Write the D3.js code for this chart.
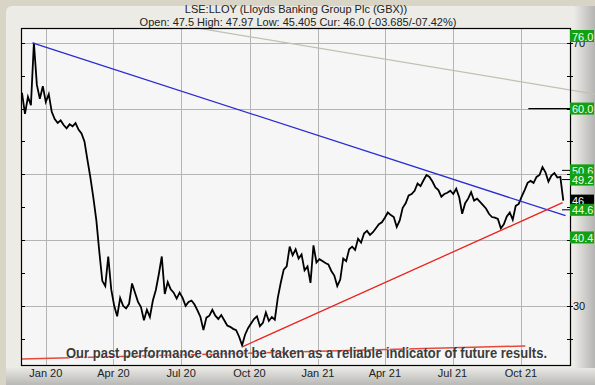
<!DOCTYPE html>
<html>
<head>
<meta charset="utf-8">
<script src="https://cdn.jsdelivr.net/npm/d3@7"></script>
<style>
  body { margin: 0; padding: 0; background: #e9e7e1; }
  svg { display: block; font-family: Arial, "Liberation Sans", sans-serif; }
</style>
</head>
<body>
<svg id="chart" width="595" height="385"></svg>
<script>
// price series, one reading every 4 days from 30 Nov 2019
var startDate = new Date(2019, 10, 30);
var stepDays = 4;
var prices = [
  62.4, 59.2, 61.8, 60.5, 70.0, 63.6, 61.5, 63.4, 61.0, 62.2,
  59.5, 58.4, 57.8, 58.2, 57.5, 57.0, 57.6, 57.3, 57.8, 56.8,
  56.2, 55.0, 52.2, 49.5, 46.4, 43.0, 38.2, 33.8, 33.0, 37.5,
  32.5, 30.0, 28.4, 31.2, 30.0, 29.6, 30.3, 33.4, 32.0, 30.6,
  29.8, 27.8, 29.4, 28.3, 30.8, 32.4, 34.8, 37.5, 31.8, 33.6,
  32.5, 32.0, 31.1, 32.0, 31.2, 30.0, 30.6, 30.8, 30.2, 29.3,
  28.3, 26.3, 28.2, 28.5, 29.4, 28.5, 28.0, 28.6, 27.8, 27.0,
  26.8, 26.5, 26.3, 25.3, 24.0, 25.6, 26.6, 27.3, 28.0, 28.4,
  26.9, 27.4, 29.0, 27.7, 28.3, 27.9, 31.2, 33.5, 35.5, 36.0,
  39.0, 37.7, 38.6, 37.2, 37.8, 35.4, 36.0, 33.5, 39.2, 36.6,
  37.1, 36.8, 36.5, 36.3, 35.3, 34.6, 33.0, 34.0, 37.2, 36.8,
  38.6, 39.0, 38.5, 40.2, 39.6, 41.0, 41.4, 40.8, 41.2, 41.8,
  42.4, 42.7, 43.4, 44.2, 43.8, 43.5, 42.0, 43.0, 44.9, 45.6,
  46.8, 47.0, 47.5, 48.6, 48.2, 49.1, 49.9, 49.6, 48.9, 48.0,
  47.6, 46.6, 47.0, 47.2, 47.5, 47.0, 47.8, 46.5, 44.0, 45.6,
  46.3, 47.3, 46.0, 46.3, 45.8, 45.3, 44.8, 44.0, 43.5, 43.4,
  43.2, 41.8, 42.4, 43.6, 44.2, 43.1, 45.2, 45.5, 46.6, 47.6,
  48.7, 49.0, 48.7, 49.6, 49.9, 51.1, 50.3, 48.9, 49.8, 50.2,
  49.5, 49.6, 46.0
];

// trend lines: [startDate, startValue, endDate, endValue]
var blueLine = [new Date(2019, 11, 14), 70.0, new Date(2021, 10, 30), 43.7];
var redLine = [new Date(2020, 8, 22), 23.8, new Date(2021, 10, 26), 45.7];
var redLongLine = [new Date(2019, 10, 30), 21.9, new Date(2021, 9, 7), 23.9];
var grayLine = [new Date(2020, 6, 20), 72.3, new Date(2022, 0, 9), 62.2];

// level markers on the right
var levels = [76.0, 60.0, 50.6, 49.2, 44.6, 40.4];
var levelsDrawnAfterCur = [44.6, 40.4];
var curValue = 46;
var level60Start = new Date(2021, 9, 11);
var shortDashes = [50.6, 49.2, 44.6];

var yTicksMajor = [70, 60, 50, 40, 30];
var yTicksMinor = [65, 55, 45, 35, 25];
var yTickLabels = [70, 30];

var titleLine1 = "LSE:LLOY (Lloyds Banking Group Plc (GBX))";
var titleLine2 = "Open: 47.5 High: 47.97 Low: 45.405 Cur: 46.0 (-03.685/-07.42%)";
var disclaimer = "Our past performance cannot be taken as a reliable indicator of future results.";

var W = 595, H = 385;
var pL = 22, pR = 570, pT = 29, pB = 365;

var svg = d3.select("#chart");
var defs = svg.append("defs");

var gR = defs.append("linearGradient").attr("id", "gR").attr("x1", 0).attr("x2", 1).attr("y1", 0).attr("y2", 0);
gR.append("stop").attr("offset", "0%").attr("stop-color", "#ebeae6");
gR.append("stop").attr("offset", "100%").attr("stop-color", "#b4b4b2");
var gB = defs.append("linearGradient").attr("id", "gB").attr("x1", 0).attr("x2", 0).attr("y1", 0).attr("y2", 1);
gB.append("stop").attr("offset", "0%").attr("stop-color", "#e8e7e3");
gB.append("stop").attr("offset", "100%").attr("stop-color", "#b8b8b6");

// frame
svg.append("rect").attr("width", W).attr("height", H).attr("fill", "#d8d4c6");
svg.append("rect").attr("x", 6).attr("y", 6).attr("width", W - 6).attr("height", H - 6)
  .attr("rx", 6).attr("fill", "#ecebe6");
svg.append("rect").attr("x", 574).attr("y", 6).attr("width", 21).attr("height", H - 6).attr("fill", "url(#gR)");
svg.append("rect").attr("x", 6).attr("y", 368).attr("width", 589).attr("height", 17).attr("fill", "url(#gB)");

var x = d3.scaleTime()
  .domain([new Date(2019, 10, 30), new Date(2021, 11, 6)])
  .range([pL, pR]);
var y = d3.scaleLinear().domain([21, 72.1]).range([pB, pT]);

var data = prices.map(function(v, i) {
  return { date: d3.timeDay.offset(startDate, i * stepDays), value: v };
});

// plot background
svg.append("rect").attr("x", pL).attr("y", pT).attr("width", pR - pL).attr("height", pB - pT)
  .attr("fill", "#f6f6f6");

var plot = svg.append("g");
var clip = defs.append("clipPath").attr("id", "plotClip");
clip.append("rect").attr("x", pL).attr("y", pT).attr("width", pR - pL).attr("height", pB - pT);

// grid
var quarters = x.ticks(d3.timeMonth.every(3));
plot.selectAll(".vg").data(quarters).enter().append("line")
  .attr("x1", function(d) { return Math.round(x(d)) + 0.5; })
  .attr("x2", function(d) { return Math.round(x(d)) + 0.5; })
  .attr("y1", pT).attr("y2", pB)
  .attr("stroke", "#b4b4b4").attr("stroke-width", 1);
plot.selectAll(".hg").data(yTicksMajor).enter().append("line")
  .attr("x1", pL).attr("x2", pR)
  .attr("y1", function(d) { return Math.round(y(d)) + 0.5; })
  .attr("y2", function(d) { return Math.round(y(d)) + 0.5; })
  .attr("stroke", "#b4b4b4").attr("stroke-width", 1);

// gray resistance line (runs out over the frame)
svg.append("line")
  .attr("x1", x(grayLine[0])).attr("y1", y(grayLine[1]))
  .attr("x2", x(grayLine[2])).attr("y2", y(grayLine[3]))
  .attr("stroke", "#c2bfb2").attr("stroke-width", 1.2);

var inner = svg.append("g").attr("clip-path", "url(#plotClip)");

function drawTrend(t, color, width) {
  inner.append("line")
    .attr("x1", x(t[0])).attr("y1", y(t[1]))
    .attr("x2", x(t[2])).attr("y2", y(t[3]))
    .attr("stroke", color).attr("stroke-width", width);
}

// price
var line = d3.line().x(function(d) { return x(d.date); }).y(function(d) { return y(d.value); });
inner.append("path").datum(data)
  .attr("d", line)
  .attr("fill", "none").attr("stroke", "#000").attr("stroke-width", 1.8)
  .attr("stroke-linejoin", "miter");

drawTrend(blueLine, "#2a2ad0", 1.3);
drawTrend(redLine, "#e8241c", 1.3);
drawTrend(redLongLine, "#e44a3a", 1.5);

// 60 level line and short dashes
inner.append("line")
  .attr("x1", x(level60Start)).attr("x2", pR)
  .attr("y1", y(60)).attr("y2", y(60))
  .attr("stroke", "#000").attr("stroke-width", 1.3);
svg.selectAll(".dash").data(shortDashes).enter().append("line")
  .attr("x1", pR - 8).attr("x2", pR)
  .attr("y1", function(d) { return y(d); }).attr("y2", function(d) { return y(d); })
  .attr("stroke", "#000").attr("stroke-width", 1);

// frame border
svg.append("rect").attr("x", pL - 0.5).attr("y", pT - 0.5)
  .attr("width", pR - pL + 1).attr("height", pB - pT + 1)
  .attr("fill", "none").attr("stroke", "#000").attr("stroke-width", 1.2);

// y ticks
var allTicks = yTicksMajor.concat(yTicksMinor);
svg.selectAll(".lt").data(allTicks).enter().append("line")
  .attr("x1", pL).attr("x2", pL + 3)
  .attr("y1", function(d) { return Math.round(y(d)) + 0.5; })
  .attr("y2", function(d) { return Math.round(y(d)) + 0.5; })
  .attr("stroke", "#000");
svg.selectAll(".rt").data(allTicks).enter().append("line")
  .attr("x1", pR - 3).attr("x2", pR + 3)
  .attr("y1", function(d) { return Math.round(y(d)) + 0.5; })
  .attr("y2", function(d) { return Math.round(y(d)) + 0.5; })
  .attr("stroke", "#000");
svg.selectAll(".ytl").data(yTickLabels).enter().append("text")
  .attr("x", pR + 3).attr("y", function(d) { return y(d) + 4; })
  .attr("font-size", 11).attr("fill", "#111")
  .text(function(d) { return d; });

// x labels
svg.selectAll(".xtl").data(quarters).enter().append("text")
  .attr("x", function(d) { return x(d); }).attr("y", 377)
  .attr("text-anchor", "middle").attr("font-size", 11).attr("fill", "#222")
  .text(function(d) { return d3.timeFormat("%b %y")(d); });

// level boxes
function levelBox(v, fill, txt) {
  var cy = Math.max(y(v), pT + 7);
  svg.append("rect").attr("x", 570).attr("y", cy - 6).attr("width", 24).attr("height", 12).attr("fill", fill);
  svg.append("text").attr("x", 572).attr("y", cy + 4.5)
    .attr("font-size", 11).attr("fill", "#f0fff0").text(txt);
}
levels.filter(function(v) { return levelsDrawnAfterCur.indexOf(v) < 0; })
  .forEach(function(v) { levelBox(v, "#12a012", v.toFixed(1)); });
levelBox(curValue, "#000", String(curValue));
levelsDrawnAfterCur.forEach(function(v) { levelBox(v, "#12a012", v.toFixed(1)); });

// titles
svg.append("text").attr("x", 296).attr("y", 13).attr("text-anchor", "middle")
  .attr("font-size", 11).attr("fill", "#222").text(titleLine1);
svg.append("text").attr("x", 298).attr("y", 26).attr("text-anchor", "middle")
  .attr("font-size", 11).attr("fill", "#222").text(titleLine2);

// disclaimer with a light under-shadow
svg.append("text").attr("x", 67).attr("y", 359)
  .attr("font-size", 14).attr("font-weight", "bold").attr("fill", "#ffffff")
  .attr("textLength", 481).attr("lengthAdjust", "spacingAndGlyphs")
  .text(disclaimer);
svg.append("text").attr("x", 66).attr("y", 358)
  .attr("font-size", 14).attr("font-weight", "bold").attr("fill", "#3c3c3c")
  .attr("textLength", 481).attr("lengthAdjust", "spacingAndGlyphs")
  .text(disclaimer);
</script>
</body>
</html>
